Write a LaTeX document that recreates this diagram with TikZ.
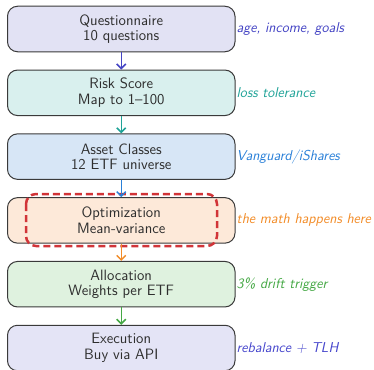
\documentclass[tikz,border=0pt]{standalone}
\usetikzlibrary{arrows.meta}
\definecolor{bordc}{HTML}{3A3A3A}
\definecolor{fA}{HTML}{E2E2F4}
\definecolor{fB}{HTML}{D9F0EE}
\definecolor{fC}{HTML}{D7E6F6}
\definecolor{fD}{HTML}{FDE9D9}
\definecolor{fE}{HTML}{DFF2DF}
\definecolor{fF}{HTML}{E4E4F6}
\definecolor{cA}{HTML}{4444C4}
\definecolor{cB}{HTML}{20A398}
\definecolor{cC}{HTML}{2A80D8}
\definecolor{cD}{HTML}{F28C28}
\definecolor{cE}{HTML}{45A845}
\definecolor{cF}{HTML}{4646CC}
\definecolor{redd}{HTML}{D13438}
\tikzset{
  stagebox/.style={draw=bordc, line width=1pt, rounded corners=10pt,
    minimum width=227.5pt, minimum height=45.5pt, align=center,
    font=\sffamily\fontsize{15}{15.5}\selectfont, text=black!82, inner sep=0pt},
  note/.style={anchor=west, inner sep=1pt, font=\sffamily\itshape\fontsize{14.3}{15}\selectfont},
  flow/.style={line width=1.5pt, -{Straight Barb[length=4.5pt,width=9pt]}},
}
\begin{document}
\begin{tikzpicture}[x=1pt,y=-1pt]
\useasboundingbox (0,0) rectangle (374,369);
\node[stagebox, fill=fA] (q) at (121.25,29) {Questionnaire\\10 questions};
\node[stagebox, fill=fB] (r) at (121.25,92.8) {Risk Score\\Map to 1--100};
\node[stagebox, fill=fC] (a) at (121.25,156.6) {Asset Classes\\12 ETF universe};
\node[stagebox, fill=fD] (o) at (121.25,220.4) {Optimization\\Mean-variance};
\node[stagebox, fill=fE] (l) at (121.25,284.2) {Allocation\\Weights per ETF};
\node[stagebox, fill=fF] (e) at (121.25,348) {Execution\\Buy via API};
\node[note, text=cA] (nq) at (q.east) {age, income, goals};
\node[note, text=cB] (nr) at (r.east) {loss tolerance};
\node[note, text=cC] (na) at (a.east) {Vanguard/iShares};
\node[note, text=cD] (no) at (o.east) {the math happens here};
\node[note, text=cE] (nl) at (l.east) {3\% drift trigger};
\node[note, text=cF] (ne) at (e.east) {rebalance + TLH};
\draw[redd, line width=2.5pt, dash pattern=on 7pt off 4pt, rounded corners=10pt]
  (26,194) rectangle (217,246);
\draw[flow, cA] (q) -- (r);
\draw[flow, cB] (r) -- (a);
\draw[flow, cC] (a) -- (o);
\draw[flow, cD] (o) -- (l);
\draw[flow, cE] (l) -- (e);
\end{tikzpicture}
\end{document}
